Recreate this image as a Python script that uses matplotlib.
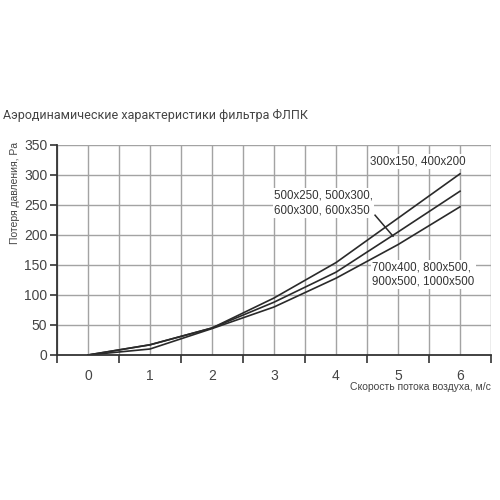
import numpy as np
import matplotlib
matplotlib.use('Agg')
import matplotlib.pyplot as plt

# Скорость потока воздуха, м/с
speed = [0, 1, 2, 3, 4, 5, 6]

# Потеря давления, Pa
loss_small = [0, 17, 45, 95, 154, 228, 302]     # 300x150, 400x200
loss_mid = [0, 17, 45, 88, 138, 205, 273]       # 500x250 ... 600x350
loss_big = [0, 10, 44, 80, 128, 184, 247]       # 700x400 ... 1000x500

lbl_small = '300x150, 400x200'
lbl_mid = '500x250, 500x300,\n600x300, 600x350'
lbl_big = '700x400, 800x500,\n900x500, 1000x500'

title = 'Аэродинамические характеристики фильтра ФЛПК'
ylab = 'Потеря давления, Pa'
xlab = 'Скорость потока воздуха, м/с'

plt.rcParams['font.family'] = ['Liberation Sans', 'DejaVu Sans']

fig = plt.figure(figsize=(5, 5), dpi=100)
ax = fig.add_axes([0.114, 0.29, 0.868, 0.42])

grid_c = '#a3a3a3'
line_c = '#2a2a2a'

ax.set_xlim(-0.5, 6.5)
ax.set_ylim(0, 350)

# сетка
for gx in np.arange(-0.5, 6.51, 0.5):
    ax.axvline(gx, color=grid_c, lw=1.0, zorder=1)
for gy in range(50, 351, 50):
    ax.axhline(gy, color=grid_c, lw=1.0, zorder=1)

ax.plot(speed, loss_small, color=line_c, lw=1.2, zorder=3)
ax.plot(speed, loss_mid, color=line_c, lw=1.2, zorder=3)
ax.plot(speed, loss_big, color=line_c, lw=1.2, zorder=3)

# подписи кривых
bb = dict(facecolor='white', edgecolor='none', pad=1.0)
ax.text(4.55, 322, lbl_small, fontsize=8.3, color='#333333', va='center', ha='left',
        bbox=bb, zorder=4)
ax.text(3.0, 253, lbl_mid, fontsize=8.3, color='#333333', va='center', ha='left',
        linespacing=1.3, bbox=bb, zorder=4)
ax.text(4.58, 134, lbl_big, fontsize=8.3, color='#333333', va='center', ha='left',
        linespacing=1.3, bbox=bb, zorder=4)
ax.plot([4.63, 4.92], [233, 198], color=line_c, lw=1.1, zorder=5)

# оси
for s in ['top', 'right']:
    ax.spines[s].set_visible(False)
ax.spines['left'].set_color('#333333')
ax.spines['bottom'].set_color('#333333')
ax.spines['left'].set_linewidth(1.3)
ax.spines['bottom'].set_linewidth(1.3)
ax.spines['left'].set_zorder(6)
ax.spines['bottom'].set_zorder(6)

ax.set_yticks(range(0, 351, 50))
ax.tick_params(axis='y', length=5, width=1.2, color='#333333', labelsize=10,
               labelcolor='#444444', pad=2)

ax.set_xticks(np.arange(-0.5, 6.51, 1.0))
ax.set_xticklabels([])
ax.set_xticks(speed, minor=True)
ax.set_xticklabels([str(v) for v in speed], minor=True)
ax.tick_params(axis='x', which='major', length=6, width=1.2, color='#333333')
ax.tick_params(axis='x', which='minor', length=0, labelsize=10,
               labelcolor='#444444', pad=10)

fig.text(0.006, 0.77, title, fontsize=9.0, color='#444444', family=['Roboto', 'DejaVu Sans'],
         va='center', ha='left')
fig.text(0.03, 0.615, ylab, fontsize=7.5, color='#444444', rotation=90,
         va='center', ha='center')
fig.text(0.982, 0.226, xlab, fontsize=7.5, color='#444444', va='center', ha='right')

fig.savefig('out.png', dpi=100)
